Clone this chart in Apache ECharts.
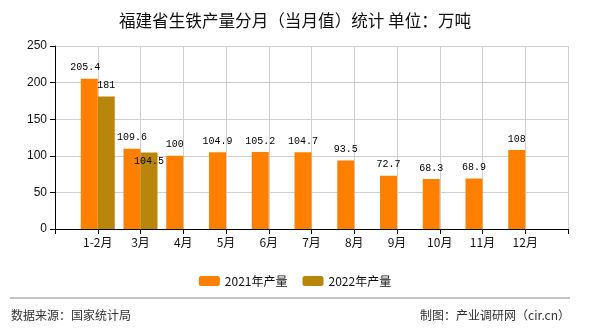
<!DOCTYPE html>
<html><head><meta charset="utf-8">
<script src="https://cdn.jsdelivr.net/npm/echarts@6/dist/echarts.min.js"></script>
<style>html,body{margin:0;padding:0;background:#fff}#c{width:590px;height:330px}</style>
</head><body><div id="c"></div>
<script>
const categories = ['', '1-2月', '3月', '4月', '5月', '6月', '7月', '8月', '9月', '10月', '11月', '12月', ''];
const values2021 = [null, 205.4, 109.6, 100, 104.9, 105.2, 104.7, 93.5, 72.7, 68.3, 68.9, 108, null];
const values2022 = [null, 181, 104.5, null, null, null, null, null, null, null, null, null, null];
const yTicks = [0, 50, 100, 150, 200, 250];
const seriesNames = ['2021年产量', '2022年产量'];
const titleText = '福建省生铁产量分月（当月值）统计 单位：万吨';
const sourceText = '数据来源：国家统计局';
const creditText = '制图：产业调研网（cir.cn）';

const labelFont = {fontFamily: 'Liberation Mono', fontSize: 10, color: '#000'};
const offsets2021 = {1: [-4, 0]};
const offsets2022 = {2: [0, 20]};
function build(vals, offs) {
  return vals.map((v, i) => offs[i] ? {value: v, label: {offset: offs[i]}} : v);
}
const chart = echarts.init(document.getElementById('c'));
chart.setOption({
  animation: false,
  title: {text: titleText, left: 'center', top: 7, textStyle: {fontFamily: 'Noto Sans CJK SC', fontSize: 16.6, fontWeight: 'normal', color: '#111'}},
  grid: {left: 55, right: 22, top: 46, bottom: 101},
  legend: {top: 270, left: 'center', itemWidth: 21, itemHeight: 10, itemGap: 15, data: seriesNames,
    textStyle: {fontFamily: 'Noto Sans CJK SC', fontSize: 12, color: '#111'}},
  xAxis: {type: 'category', data: categories, boundaryGap: false,
    axisLine: {lineStyle: {color: '#000'}}, axisTick: {show: true, lineStyle: {color: '#000'}, length: 5},
    axisLabel: {fontFamily: 'Noto Sans CJK SC', fontSize: 12, color: '#111', interval: 0, margin: 7},
    splitLine: {show: true, lineStyle: {color: '#d0d0d0'}}},
  yAxis: {type: 'value', min: yTicks[0], max: yTicks[yTicks.length - 1], interval: 50,
    axisLine: {show: true, lineStyle: {color: '#000'}}, axisTick: {show: true, lineStyle: {color: '#000'}, length: 5},
    axisLabel: {fontFamily: 'Liberation Sans', fontSize: 12, color: '#111', margin: 8},
    splitLine: {lineStyle: {color: '#d0d0d0'}}},
  series: [
    {name: seriesNames[0], type: 'bar', data: build(values2021, offsets2021), barWidth: 17, barGap: '0%',
      itemStyle: {color: '#FF8000'}, label: Object.assign({show: true, position: 'top', distance: 6}, labelFont)},
    {name: seriesNames[1], type: 'bar', data: build(values2022, offsets2022), barWidth: 17, barGap: '0%',
      itemStyle: {color: '#B8860B'}, label: Object.assign({show: true, position: 'top', distance: 6}, labelFont)}
  ],
  graphic: [
    {type: 'line', shape: {x1: 10, y1: 298, x2: 570, y2: 298}, style: {stroke: '#888', lineWidth: 1}},
    {type: 'text', left: 11, top: 309, style: {text: sourceText, fontFamily: 'Noto Sans CJK SC', fontSize: 12, fill: '#333'}},
    {type: 'text', right: 20, top: 309, style: {text: creditText, fontFamily: 'Noto Sans CJK SC', fontSize: 12, fill: '#333'}}
  ]
});
</script></body></html>
